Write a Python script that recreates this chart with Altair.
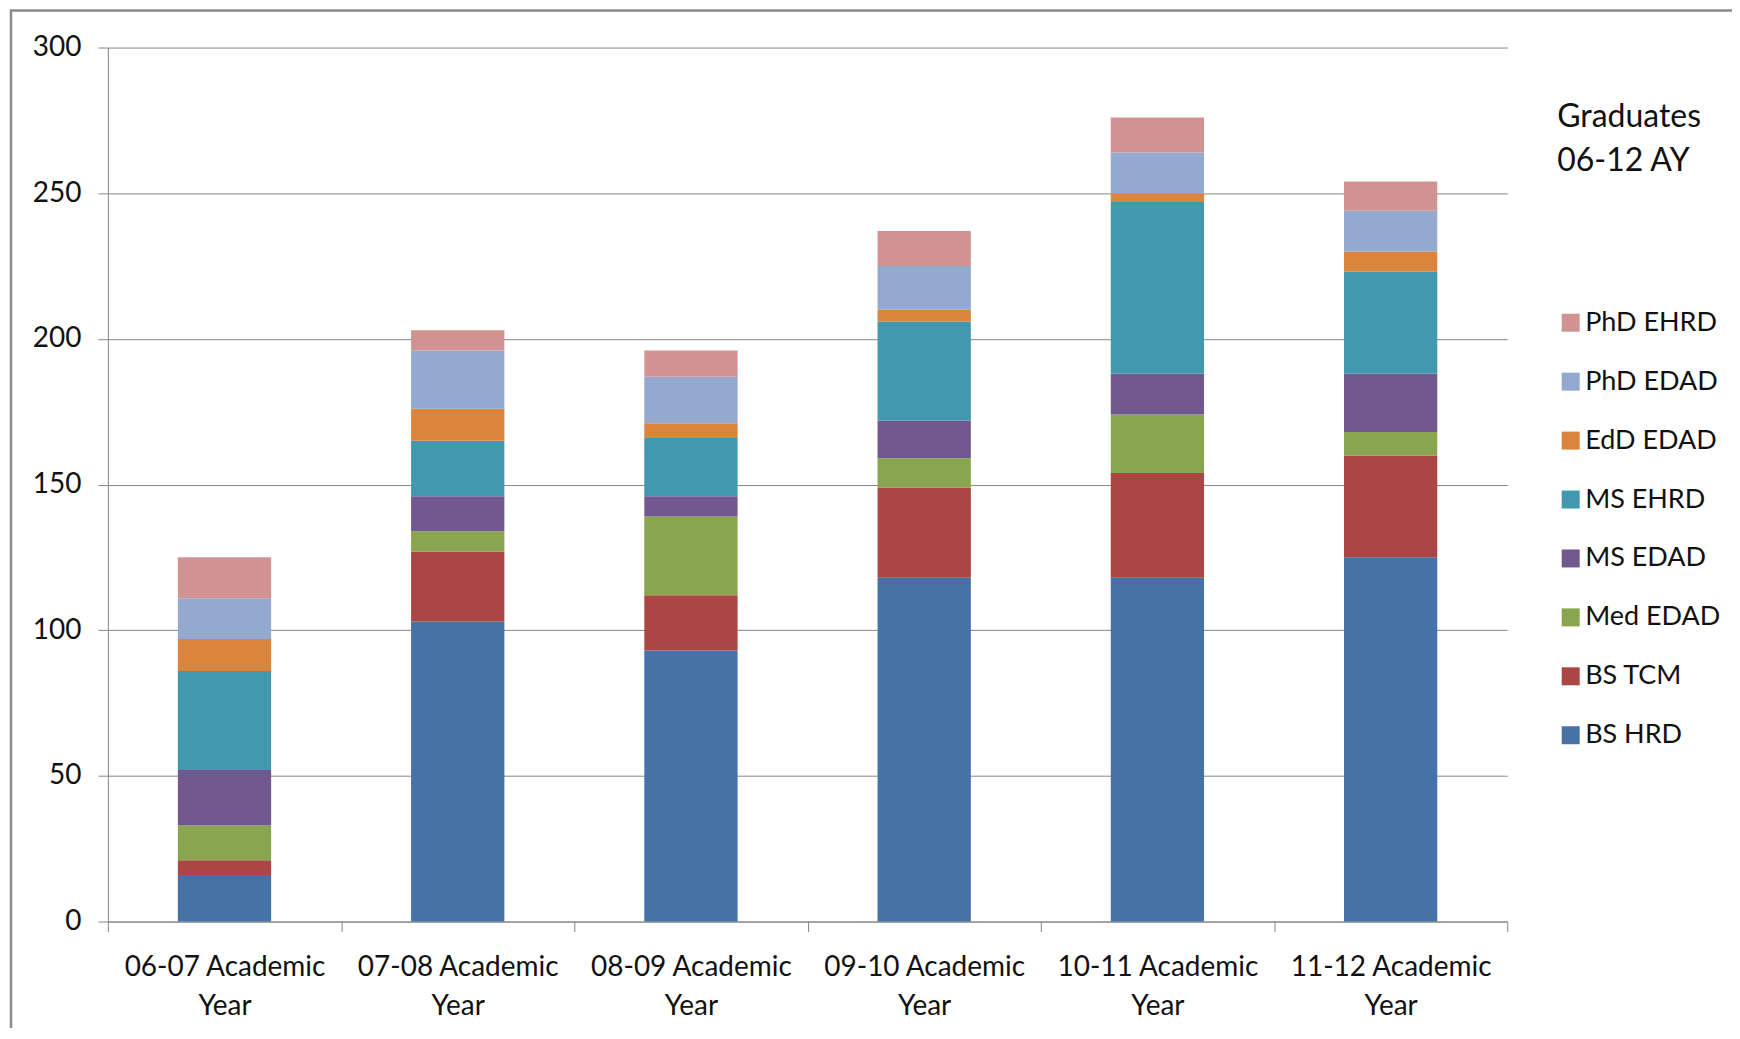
import altair as alt
import pandas as pd

years = ["06-07 Academic Year", "07-08 Academic Year", "08-09 Academic Year",
         "09-10 Academic Year", "10-11 Academic Year", "11-12 Academic Year"]
programs = ["BS HRD", "BS TCM", "Med EDAD", "MS EDAD", "MS EHRD", "EdD EDAD", "PhD EDAD", "PhD EHRD"]
colors = ["#4572A7", "#AA4643", "#89A54E", "#71588F", "#4198AF", "#DB843D", "#93A9CF", "#D19392"]

bs_hrd = [16, 103, 93, 118, 118, 125]
bs_tcm = [5, 24, 19, 31, 36, 35]
med_edad = [12, 7, 27, 10, 20, 8]
ms_edad = [19, 12, 7, 13, 14, 20]
ms_ehrd = [34, 19, 20, 34, 59, 35]
edd_edad = [11, 11, 5, 4, 3, 7]
phd_edad = [14, 20, 16, 15, 14, 14]
phd_ehrd = [14, 7, 9, 12, 12, 10]
series = [bs_hrd, bs_tcm, med_edad, ms_edad, ms_ehrd, edd_edad, phd_edad, phd_ehrd]

y_ticks = [0, 50, 100, 150, 200, 250, 300]

rows = []
for i, (p, vals) in enumerate(zip(programs, series)):
    for yr, v in zip(years, vals):
        rows.append({"year": yr, "program": p, "count": v, "order": i})
df = pd.DataFrame(rows)

FONT = "Lato"
GRAY = "#868686"

bars = alt.Chart(df).mark_bar(width={"band": 0.4}).encode(
    x=alt.X("year:N", sort=years, title=None,
            scale=alt.Scale(paddingInner=0, paddingOuter=0),
            axis=alt.Axis(labelAngle=0, tickBand="extent", tickSize=10, tickColor=GRAY,
                          domainColor=GRAY, grid=False, labelLimit=0,
                          labelExpr="datum.label ? [replace(datum.label, ' Year', ''), 'Year'] : ''",
                          labelFont=FONT, labelFontSize=28, labelColor="#111111",
                          labelPadding=22, labelLineHeight=39)),
    y=alt.Y("count:Q", stack="zero", title=None,
            scale=alt.Scale(domain=[0, 300], nice=False),
            axis=alt.Axis(values=y_ticks, tickSize=10, tickColor=GRAY, domainColor=GRAY,
                          gridColor=GRAY, gridWidth=1, labelFont=FONT, labelFontSize=28,
                          labelColor="#111111", labelPadding=17)),
    color=alt.Color("program:N",
                    scale=alt.Scale(domain=programs[::-1], range=colors[::-1]),
                    legend=alt.Legend(orient="none", legendX=1451, legendY=55,
                                      title=["Graduates", "06-12 AY"], titleFont=FONT,
                                      titleFontSize=32, titleFontWeight="normal",
                                      titleColor="#111111", titleLineHeight=44,
                                      titlePadding=131, labelFont=FONT, labelFontSize=27,
                                      labelColor="#111111", symbolType="square",
                                      symbolSize=324, symbolStrokeWidth=0,
                                      symbolOpacity=1, rowPadding=31, labelOffset=1,
                                      padding=0)),
    order=alt.Order("order:Q", sort="ascending"),
)

# chart frame (decorative border around the whole chart area)
frame = alt.Chart(pd.DataFrame({"f": [0]})).mark_rect(
    fill=None, stroke="#8a8a8a", strokeWidth=2.5
).encode(
    x=alt.value(-97), x2=alt.value(1700), y=alt.value(-37), y2=alt.value(1000)
)

chart = alt.layer(frame, bars).properties(
    width=1401, height=875,
    padding={"left": 100, "top": 39, "right": 225, "bottom": 106},
    autosize="none",
).configure_view(stroke=None)

chart.save("out.html", embed_options={"renderer": "svg", "actions": False})
